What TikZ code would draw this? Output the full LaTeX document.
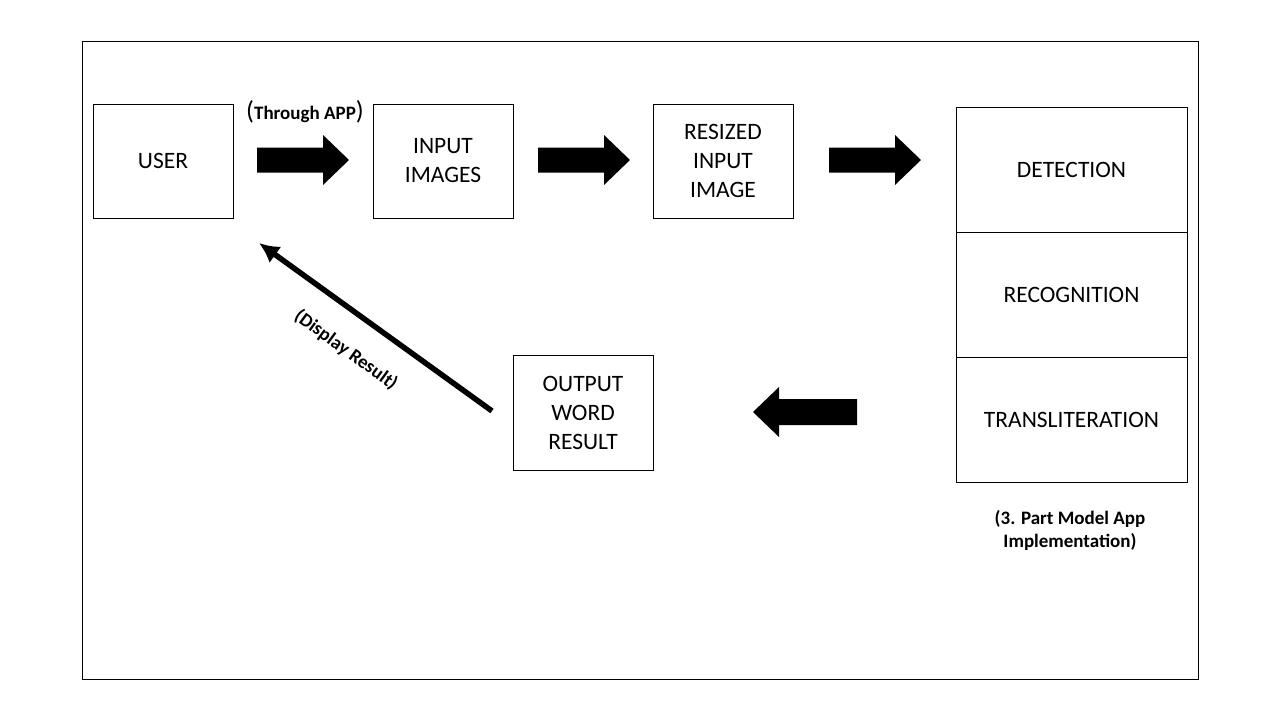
\documentclass[tikz,border=0pt]{standalone}
\usepackage{fontspec}
\usetikzlibrary{arrows.meta}
\setmainfont{Carlito}
\begin{document}
\begin{tikzpicture}[x=1pt,y=-1pt,
  box/.style={draw=black,line width=0.8pt,minimum width=140pt,minimum height=114pt,align=center,inner sep=0pt,font=\fontsize{23.5}{29}\selectfont},
  stack/.style={draw=black,line width=0.8pt,minimum width=231pt,minimum height=125pt,align=center,inner sep=0pt,font=\fontsize{23.5}{29}\selectfont},
  blockarrow/.style={fill=black,draw=none},
  lbl/.style={font=\fontsize{19}{23}\selectfont\bfseries,align=center,inner sep=0pt}]
\useasboundingbox (0,0) rectangle (1280,720);
\fill[white] (0,0) rectangle (1280,720);
\draw[line width=0.8pt] (82,41) rectangle (1198,679);
% boxes
\node[box] (user) at (163,161) {USER};
\node[box] (input) at (443,161) {INPUT\\IMAGES};
\node[box] (resized) at (723,161) {RESIZED\\INPUT\\IMAGE};
\node[stack] (det) at (1071.5,169.5) {DETECTION};
\node[stack] (rec) at (1071.5,294.5) {RECOGNITION};
\node[stack] (tra) at (1071.5,419.5) {TRANSLITERATION};
\node[box,minimum height=115pt] (out) at (583,412.5) {OUTPUT\\WORD\\RESULT};
% block arrows
\coordinate (a1) at (257,160);
\coordinate (a2) at (538,160);
\coordinate (a3) at (829,160);
\foreach \c in {a1,a2,a3}{
  \fill[blockarrow] ([shift={(0,-12.5)}]\c) -- ++(66,0) -- ++(0,-12.5) -- ++(26,25) -- ++(-26,25) -- ++(0,-12.5) -- ++(-66,0) -- cycle;
}
\coordinate (a4) at (857,412);
\fill[blockarrow] ([shift={(0,-13)}]a4) -- ++(-78,0) -- ++(0,-12) -- ++(-26,25) -- ++(26,25) -- ++(0,-12) -- ++(78,0) -- cycle;
% labels
\node[inner sep=0pt] (through) at (305,112) {{\fontsize{26}{28}\selectfont(}{\fontsize{19}{22}\selectfont\bfseries Through APP}{\fontsize{26}{28}\selectfont)}};
% diagonal arrow
\coordinate (dstart) at (492,411);
\coordinate (dend) at (259,243);
\draw[line width=5.5pt,-{Latex[length=20pt,width=20pt]}] (dstart) -- (dend);
\node[lbl,rotate=-36] (disp) at (346,350) {(Display Result)};
\node[lbl] (impl) at (1070,530) {(3. Part Model App\\Implementation)};
\end{tikzpicture}
\end{document}
